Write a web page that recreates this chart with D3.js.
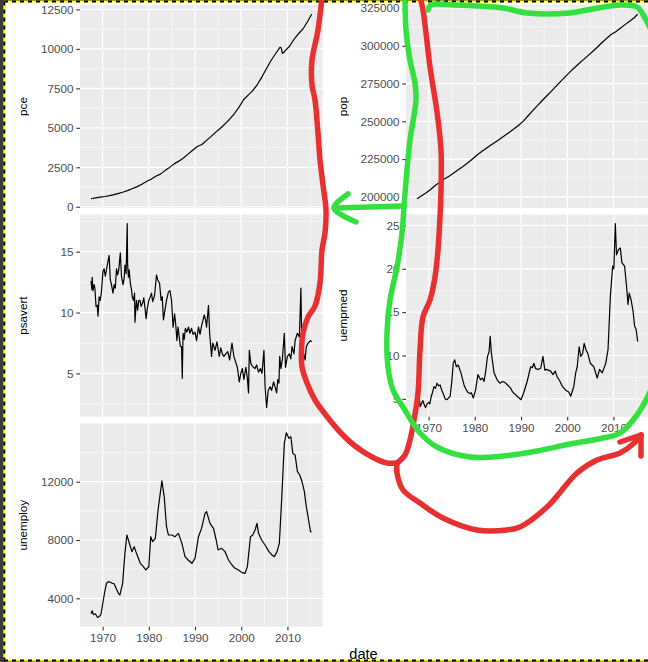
<!DOCTYPE html>
<html>
<head>
<meta charset="utf-8">
<script src="https://cdn.jsdelivr.net/npm/d3@7"></script>
<style>
  html, body { margin: 0; padding: 0; background: #3c3c3c; }
  svg { display: block; }
  text { font-family: "Liberation Sans", Arial, sans-serif; }
</style>
</head>
<body>
<svg id="canvas" width="648" height="662"></svg>
<script>
const pce = [["1967-07",506.7],["1968-07",563],["1969-07",606],["1970-07",650],["1971-07",703],["1972-07",772],["1973-07",853],["1974-07",938],["1975-07",1036],["1976-07",1153],["1977-07",1278],["1978-07",1430],["1979-07",1596],["1980-07",1746],["1981-07",1937],["1982-07",2068],["1983-07",2290],["1984-07",2494],["1985-07",2717],["1986-07",2890],["1987-07",3084],["1988-07",3334],["1989-07",3580],["1990-07",3818],["1991-07",3940],["1992-07",4206],["1993-07",4458],["1994-07",4728],["1995-07",4970],["1996-07",5254],["1997-07",5545],["1998-07",5890],["1999-07",6297],["2000-07",6776],["2001-07",7068],["2002-07",7356],["2003-07",7740],["2004-07",8229],["2005-07",8770],["2006-07",9280],["2007-07",9720],["2008-06",10110],["2008-09",10050],["2008-12",9720],["2009-04",9780],["2009-07",9870],["2010-07",10180],["2011-07",10640],["2012-07",10990],["2013-07",11320],["2014-07",11800],["2015-04",12193.8]]

const pop = [["1967-07",198712],["1968-07",200706],["1969-07",202677],["1970-07",205052],["1971-07",207661],["1972-07",209896],["1973-07",211909],["1974-07",213854],["1975-07",215973],["1976-07",218035],["1977-07",220239],["1978-07",222585],["1979-07",225055],["1980-07",227726],["1981-07",229966],["1982-07",232188],["1983-07",234307],["1984-07",236348],["1985-07",238466],["1986-07",240651],["1987-07",242804],["1988-07",245021],["1989-07",247342],["1990-07",250132],["1991-07",253493],["1992-07",256894],["1993-07",260255],["1994-07",263436],["1995-07",266557],["1996-07",269667],["1997-07",272912],["1998-07",276115],["1999-07",279295],["2000-07",282385],["2001-07",285309],["2002-07",288105],["2003-07",290820],["2004-07",293463],["2005-07",296186],["2006-07",298996],["2007-07",302004],["2008-07",304798],["2009-07",307439],["2010-07",309347],["2011-07",311663],["2012-07",313998],["2013-07",316205],["2014-07",318563],["2015-04",320887]]

const psavert = [["1967-07",12.6],["1967-09",11.9],["1967-10",12.9],["1967-12",11.8],["1968-03",12.3],["1968-05",12.0],["1968-08",10.5],["1968-11",10.6],["1969-01",9.7],["1969-04",11.3],["1969-07",11.0],["1969-10",11.7],["1970-02",13.4],["1970-05",13.6],["1970-08",13.0],["1970-11",13.5],["1971-03",14.2],["1971-06",14.7],["1971-09",12.7],["1971-12",12.3],["1972-04",11.6],["1972-07",12.3],["1972-10",12.0],["1973-01",13.6],["1973-04",13.1],["1973-07",13.5],["1973-11",14.9],["1974-02",13.0],["1974-06",12.3],["1974-09",12.8],["1974-11",13.9],["1975-02",13.2],["1975-05",17.3],["1975-06",14.0],["1975-08",12.9],["1975-10",13.5],["1976-01",12.4],["1976-04",11.9],["1976-06",11.3],["1976-09",11.0],["1976-12",11.6],["1977-01",9.2],["1977-05",11.0],["1977-08",10.2],["1977-11",11.0],["1978-02",11.0],["1978-05",10.5],["1978-09",10.8],["1978-12",11.2],["1979-03",10.4],["1979-06",9.5],["1979-09",10.3],["1980-01",11.0],["1980-05",11.3],["1980-08",11.6],["1980-11",10.9],["1981-04",11.4],["1981-09",13.1],["1981-12",12.7],["1982-05",12.4],["1982-09",11.0],["1982-12",11.3],["1983-03",9.4],["1983-07",10.2],["1983-11",11.0],["1984-04",11.7],["1984-08",11.8],["1984-12",11.0],["1985-04",8.8],["1985-08",9.9],["1985-11",9.0],["1986-02",7.7],["1986-05",8.8],["1986-08",8.0],["1986-11",7.2],["1987-02",7.2],["1987-04",4.6],["1987-06",8.3],["1987-09",7.8],["1987-12",8.7],["1988-04",8.4],["1988-08",8.8],["1988-12",8.3],["1989-04",8.7],["1989-08",8.2],["1990-01",8.4],["1990-05",7.7],["1990-10",8.8],["1991-02",8.2],["1991-06",8.9],["1991-10",9.4],["1992-01",9.8],["1992-05",9.3],["1992-07",8.8],["1992-12",10.6],["1993-03",8.3],["1993-08",6.4],["1993-11",7.5],["1994-05",6.9],["1994-10",7.6],["1995-04",6.4],["1995-08",7.1],["1995-12",6.6],["1996-04",6.4],["1996-09",6.6],["1997-02",6.8],["1997-07",6.1],["1998-01",7.5],["1998-06",6.4],["1998-11",5.9],["1999-03",5.5],["1999-08",4.3],["1999-12",5.0],["2000-04",5.4],["2000-08",4.5],["2001-01",5.5],["2001-05",4.6],["2001-08",3.4],["2001-10",6.9],["2002-02",5.8],["2002-06",5.6],["2002-09",5.5],["2003-01",5.4],["2003-05",5.7],["2003-10",5.1],["2004-03",5.4],["2004-07",5.0],["2004-12",6.9],["2005-03",3.9],["2005-07",2.2],["2005-11",3.6],["2006-04",3.9],["2006-08",3.6],["2007-01",4.3],["2007-05",3.9],["2007-09",3.4],["2007-12",4.5],["2008-03",4.2],["2008-05",6.4],["2008-08",5.4],["2008-12",6.2],["2009-05",8.3],["2009-08",5.5],["2010-01",6.4],["2010-06",6.6],["2010-10",6.2],["2011-01",7.2],["2011-06",6.6],["2011-09",7.7],["2012-03",8.3],["2012-08",8.0],["2012-12",12.0],["2013-02",7.7],["2013-06",6.8],["2013-11",6.1],["2014-02",7.2],["2014-07",7.5],["2015-01",7.7],["2015-04",7.6]]

const uempmed = [["1967-07",4.5],["1967-10",4.9],["1968-01",5.1],["1968-03",4.1],["1968-07",4.5],["1968-10",4.8],["1969-01",4.4],["1969-05",4.0],["1969-09",4.4],["1970-01",4.6],["1970-04",4.4],["1970-08",5.3],["1970-11",5.7],["1971-03",6.4],["1971-07",6.2],["1971-11",6.8],["1972-03",6.5],["1972-07",6.6],["1972-11",6.0],["1973-04",5.5],["1973-08",5.0],["1974-01",4.9],["1974-05",5.1],["1974-09",5.3],["1975-01",6.9],["1975-05",9.1],["1975-09",9.5],["1976-01",8.7],["1976-06",8.9],["1977-01",8.0],["1977-05",7.3],["1977-09",6.6],["1978-01",6.2],["1978-06",5.8],["1978-12",5.6],["1979-04",5.7],["1979-09",5.1],["1980-03",6.0],["1980-09",7.8],["1981-04",7.2],["1981-09",7.4],["1982-01",7.0],["1982-06",8.4],["1982-10",9.9],["1983-02",10.4],["1983-05",12.2],["1983-08",10.3],["1984-03",8.0],["1984-11",7.2],["1985-06",6.8],["1986-01",7.0],["1986-07",6.9],["1987-02",6.6],["1987-09",6.3],["1988-03",5.8],["1989-03",5.3],["1990-01",4.9],["1990-08",5.7],["1991-05",7.0],["1992-02",8.7],["1992-07",8.6],["1992-10",9.1],["1993-03",8.5],["1993-08",8.4],["1994-04",8.5],["1994-10",9.9],["1995-03",8.3],["1995-07",8.4],["1996-06",8.2],["1996-12",7.8],["1997-06",8.2],["1997-11",7.5],["1998-04",7.2],["1999-01",6.4],["1999-09",6.0],["2000-05",5.8],["2000-10",5.3],["2001-06",6.4],["2001-11",8.0],["2002-03",8.7],["2002-08",11.0],["2002-12",9.9],["2003-05",10.2],["2003-09",11.4],["2004-02",10.6],["2004-06",10.3],["2005-01",9.1],["2005-10",8.7],["2006-07",7.4],["2007-01",8.4],["2007-08",8.0],["2008-01",8.6],["2008-05",9.1],["2008-11",10.7],["2009-05",16.8],["2009-11",20.3],["2010-02",20.0],["2010-06",25.2],["2010-09",21.6],["2011-02",22.2],["2011-07",22.4],["2011-11",20.7],["2012-06",20.3],["2012-11",18.0],["2013-03",15.9],["2013-06",17.2],["2013-11",16.4],["2014-04",15.1],["2014-08",13.4],["2014-12",13.0],["2015-04",11.6]]

const unemploy = [["1967-07",2944],["1967-10",3143],["1968-01",2878],["1968-06",2938],["1968-12",2685],["1969-05",2758],["1969-09",2925],["1970-03",3885],["1970-07",4500],["1970-11",5028],["1971-04",5142],["1971-09",5100],["1972-02",5028],["1972-07",5000],["1972-12",4685],["1973-06",4342],["1973-10",4228],["1974-05",5028],["1974-11",7085],["1975-04",8342],["1975-08",8000],["1976-05",7200],["1976-11",7542],["1977-05",7085],["1978-03",6400],["1978-11",6171],["1979-05",5942],["1980-01",6171],["1980-06",8228],["1980-11",7885],["1981-06",8114],["1982-01",10057],["1982-11",12051],["1983-05",10971],["1983-11",8914],["1984-04",8342],["1985-01",8342],["1985-09",8228],["1986-06",8457],["1987-03",7771],["1987-11",6857],["1988-07",6628],["1989-05",6400],["1990-01",6742],["1990-10",8228],["1991-06",8800],["1992-03",9828],["1992-07",9943],["1993-04",9142],["1994-01",8800],["1994-08",8000],["1995-01",7314],["1995-10",7428],["1996-07",7200],["1997-04",6628],["1998-01",6285],["1998-09",6057],["1999-06",5942],["2000-03",5760],["2000-11",5714],["2001-05",6171],["2002-01",8228],["2002-07",8342],["2003-01",8685],["2003-06",9142],["2003-10",8457],["2004-06",8000],["2005-03",7657],["2006-01",7200],["2006-09",6971],["2007-03",6857],["2007-10",7200],["2008-04",7771],["2008-10",10743],["2009-05",14628],["2009-10",15352],["2010-05",14971],["2010-10",15085],["2011-03",13943],["2011-09",13828],["2012-03",12685],["2012-09",12457],["2013-03",12000],["2013-09",11314],["2014-02",10285],["2014-08",9371],["2015-01",8571],["2015-04",8549]]

const yearBreaks = [1970, 1980, 1990, 2000, 2010]
const yearMinor = [1965, 1975, 1985, 1995, 2005, 2015]
const pceBreaks = [0, 2500, 5000, 7500, 10000, 12500]
const popBreaks = [200000, 225000, 250000, 275000, 300000, 325000]
const psavertBreaks = [5, 10, 15]
const uempmedBreaks = [5, 10, 15, 20, 25]
const unemployBreaks = [4000, 8000, 12000]

// freehand marks drawn over the screenshot (pixel positions)
const redStrokes = [
    [[322,-3],[318,30],[312,60],[312,85],[315,100],[318,133],[320,160],[323,185],[326,210],[325,233],[322,250],[320,283],[315,306],[308,317],[303,333],[301.5,350],[302,367],[307,383],[315,400],[325,414],[340,432],[355,446],[372,457],[387,463],[397,463]],
    [[397,463],[405,455],[410,440],[414,420],[418,393],[420,350],[423,317],[430,300],[435,277],[438,250],[440,217],[441,190],[441,150],[437,112],[430,67],[426,33],[423,10],[420,-3]],
    [[397,463],[397,473],[403,490],[420,503],[443,518],[477,530],[507,530],[520,527],[547,507],[577,473],[597,460],[620,453],[633,444],[641,435]],
    [[620,442],[641,435]],
    [[641,435],[641,456]]
]
const greenStrokes = [
    [[356,222],[334,208],[348,194]],
    [[334,208],[404,206]],
    [[404,206],[407,170],[410,140],[416,100],[415,83],[410,60],[406,30],[405,-3]],
    [[428,10],[431,5],[453,5],[503,8],[527,13],[570,13],[587,10],[620,5],[637,7],[645,18],[650,28]],
    [[404,206],[402,233],[397,267],[390,300],[387,333],[388,367],[393,390],[403,407],[420,433],[437,447],[470,457],[503,456],[537,451],[570,444],[603,438],[620,433],[637,415],[650,392]]
]

let parseMonth = d3.timeParse("%Y-%m")
let canvas = d3.select("#canvas")

canvas.append("rect").attr("width", 648).attr("height", 662).attr("fill", "#3c3c3c")
canvas.append("rect").attr("x", 4).attr("y", 2).attr("width", 644).attr("height", 658.5).attr("fill", "#ffffff")

let first = parseMonth("1967-07")
let last = parseMonth("2015-04")
let pad = (last - first) * 0.05
let xDomain = [new Date(+first - pad), new Date(+last + pad)]

let columns = [[80, 322.7], [406, 648.7]]
let titleX = [23, 343]
let rows = [[5, 208], [214.5, 416.7], [423.6, 626.7]]

let panels = [
    {name: "pce", values: pce, breaks: pceBreaks, col: 0, row: 0, xAxis: false},
    {name: "psavert", values: psavert, breaks: psavertBreaks, col: 0, row: 1, xAxis: false},
    {name: "unemploy", values: unemploy, breaks: unemployBreaks, col: 0, row: 2, xAxis: true},
    {name: "pop", values: pop, breaks: popBreaks, col: 1, row: 0, xAxis: false},
    {name: "uempmed", values: uempmed, breaks: uempmedBreaks, col: 1, row: 1, xAxis: true}
]

let drawPanel = (p) => {
    let [left, right] = columns[p.col]
    let [top, bottom] = rows[p.row]
    let x = d3.scaleTime().domain(xDomain).range([left, right])
    let ext = d3.extent(p.values, (d) => d[1])
    let span = ext[1] - ext[0]
    let y = d3.scaleLinear().domain([ext[0] - span * 0.05, ext[1] + span * 0.05]).range([bottom, top])

    let g = canvas.append("g")
    g.append("rect")
        .attr("x", left).attr("y", top)
        .attr("width", right - left).attr("height", bottom - top)
        .attr("fill", "#ebebeb")

    let step = p.breaks[1] - p.breaks[0]
    let ext2 = [p.breaks[0] - step, ...p.breaks, p.breaks[p.breaks.length - 1] + step]
    let yMinor = d3.pairs(ext2).map((pr) => (pr[0] + pr[1]) / 2)
        .filter((v) => v >= y.domain()[0] && v <= y.domain()[1])
    let xMinor = yearMinor.map((yr) => new Date(yr, 0, 1))
        .filter((d) => d >= xDomain[0] && d <= xDomain[1])
    let xMajor = yearBreaks.map((yr) => new Date(yr, 0, 1))

    g.selectAll(".ymin").data(yMinor).enter().append("line")
        .attr("x1", left).attr("x2", right)
        .attr("y1", (d) => y(d)).attr("y2", (d) => y(d))
        .attr("stroke", "#ffffff").attr("stroke-width", 0.6)
    g.selectAll(".xmin").data(xMinor).enter().append("line")
        .attr("y1", top).attr("y2", bottom)
        .attr("x1", (d) => x(d)).attr("x2", (d) => x(d))
        .attr("stroke", "#ffffff").attr("stroke-width", 0.6)
    g.selectAll(".ymaj").data(p.breaks.filter((v) => v >= y.domain()[0] && v <= y.domain()[1])).enter().append("line")
        .attr("x1", left).attr("x2", right)
        .attr("y1", (d) => y(d)).attr("y2", (d) => y(d))
        .attr("stroke", "#ffffff").attr("stroke-width", 1.2)
    g.selectAll(".xmaj").data(xMajor).enter().append("line")
        .attr("y1", top).attr("y2", bottom)
        .attr("x1", (d) => x(d)).attr("x2", (d) => x(d))
        .attr("stroke", "#ffffff").attr("stroke-width", 1.2)

    let line = d3.line()
        .x((d) => x(parseMonth(d[0])))
        .y((d) => y(d[1]))
    g.append("path")
        .datum(p.values)
        .attr("d", line)
        .attr("fill", "none")
        .attr("stroke", "#000000")
        .attr("stroke-width", 1.2)
        .attr("stroke-linejoin", "round")

    let yAxis = g.append("g")
        .attr("transform", "translate(" + left + ",0)")
        .call(d3.axisLeft(y).tickValues(p.breaks).tickSize(3.7).tickPadding(2.9).tickFormat((d) => String(d)))
    yAxis.select(".domain").remove()
    yAxis.selectAll("line").attr("stroke", "#333333").attr("stroke-width", 1.1)
    yAxis.selectAll("text").attr("fill", "#4d4d4d").style("font-size", "11.7px")
        .style("font-family", "'Liberation Sans', Arial, sans-serif")

    if (p.xAxis) {
        let xAxis = g.append("g")
            .attr("transform", "translate(0," + bottom + ")")
            .call(d3.axisBottom(x).tickValues(xMajor).tickSize(3.7).tickPadding(2.9).tickFormat(d3.timeFormat("%Y")))
        xAxis.select(".domain").remove()
        xAxis.selectAll("line").attr("stroke", "#333333").attr("stroke-width", 1.1)
        xAxis.selectAll("text").attr("fill", "#4d4d4d").style("font-size", "11.7px")
            .style("font-family", "'Liberation Sans', Arial, sans-serif")
    }

    g.append("text")
        .attr("transform", "translate(" + titleX[p.col] + "," + (top + bottom) / 2 + ") rotate(-90)")
        .attr("text-anchor", "middle")
        .attr("dy", "0.35em")
        .style("font-size", "11.7px")
        .attr("fill", "#000000")
        .text(p.name)
}

panels.forEach(drawPanel)

canvas.append("text")
    .attr("x", 363.5).attr("y", 659)
    .attr("text-anchor", "middle")
    .style("font-size", "14.6px")
    .attr("fill", "#000000")
    .text("date")

// marching-ants border of the selection
let border = [[[4, 1.5], [648, 1.5]], [[4.3, 1.5], [4.3, 661]], [[4, 660.6], [648, 660.6]]]
border.forEach((seg) => {
    let path = d3.line()(seg)
    canvas.append("path").attr("d", path).attr("stroke", "#ffff00").attr("stroke-width", 2).attr("fill", "none")
    canvas.append("path").attr("d", path).attr("stroke", "#000000").attr("stroke-width", 2)
        .attr("stroke-dasharray", "4,4").attr("fill", "none")
})

let pen = d3.line().curve(d3.curveCatmullRom.alpha(0.5))
redStrokes.forEach((s) => {
    canvas.append("path").attr("d", pen(s)).attr("fill", "none")
        .attr("stroke", "#e83030").attr("stroke-width", 5.5)
        .attr("stroke-linecap", "round").attr("stroke-linejoin", "round")
})
greenStrokes.forEach((s) => {
    canvas.append("path").attr("d", pen(s)).attr("fill", "none")
        .attr("stroke", "#33e040").attr("stroke-width", 5.5)
        .attr("stroke-linecap", "round").attr("stroke-linejoin", "round")
})
</script>
</body>
</html>
